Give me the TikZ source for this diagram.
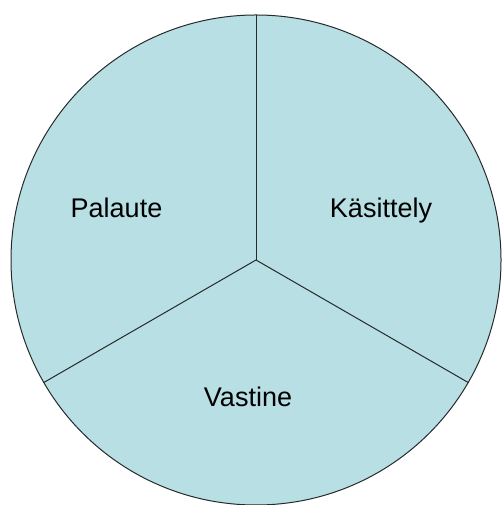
\documentclass[tikz,border=0pt]{standalone}
\usepackage{fontspec}
\setmainfont{Liberation Sans}
\usepackage{xcolor}
\usepackage{tikz}
\usetikzlibrary{calc}
\definecolor{pieBlue}{RGB}{184,223,227}
\definecolor{pieEdge}{RGB}{38,42,44}

\tikzset{
    sectorlabel/.style={anchor=base, text=black, font=\fontsize{27}{32}\selectfont},
    rimline/.style={pieEdge, line width=1pt}
}

\begin{document}
\begin{tikzpicture}[x=1pt,y=1pt]
    \useasboundingbox (0,0) rectangle (502,505);

    \coordinate (hub) at (256,245);
    \coordinate (rimTop) at ($(hub)+(90:245pt)$);
    \coordinate (rimLeft) at ($(hub)+(210:245pt)$);
    \coordinate (rimRight) at ($(hub)+(330:245pt)$);

    \draw[rimline, fill=pieBlue] (hub) circle (245pt);
    \draw[rimline] (hub) -- (rimTop);
    \draw[rimline] (hub) -- (rimLeft);
    \draw[rimline] (hub) -- (rimRight);

    \node[sectorlabel] (palaute) at (116.5,287) {Palaute};
    \node[sectorlabel] (kasittely) at (381,287) {Käsittely};
    \node[sectorlabel] (vastine) at (248,98) {Vastine};
\end{tikzpicture}
\end{document}
